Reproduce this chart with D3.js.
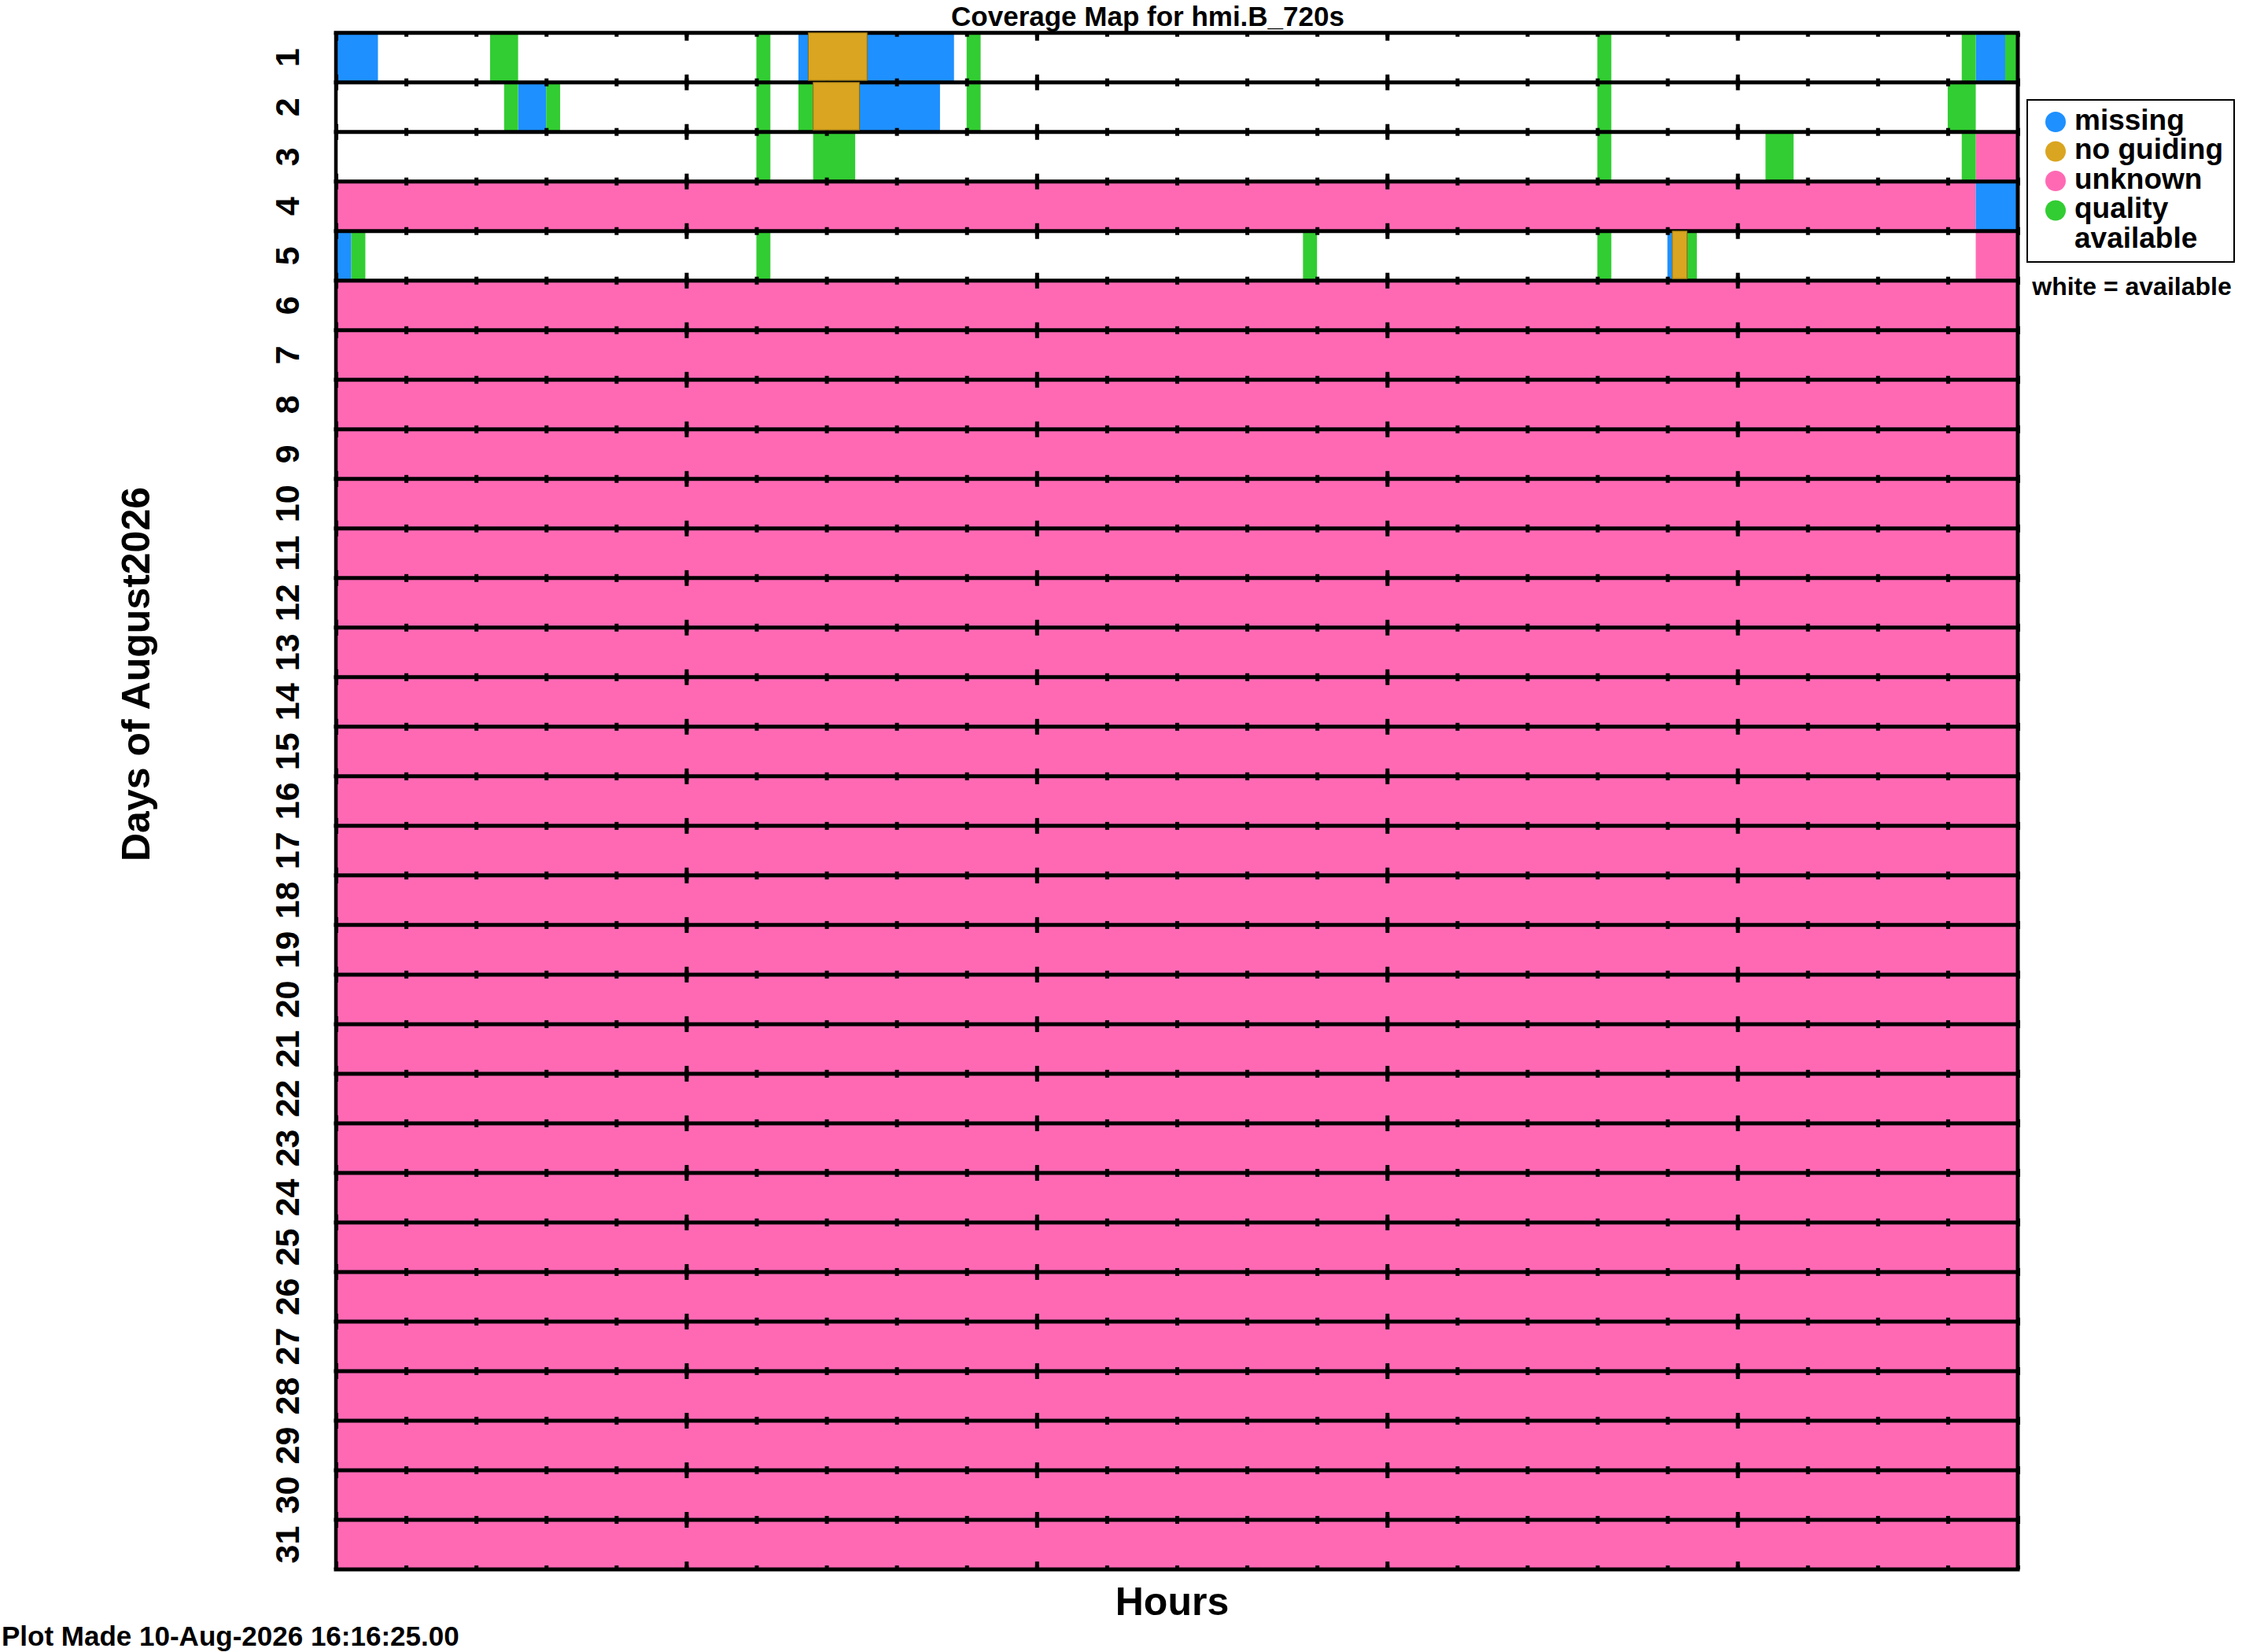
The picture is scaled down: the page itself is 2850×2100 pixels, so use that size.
<!DOCTYPE html>
<html>
<head>
<meta charset="utf-8">
<script src="https://cdn.jsdelivr.net/npm/d3@7/dist/d3.min.js"></script>
<style>
  html, body { margin: 0; padding: 0; background: #fff; }
  svg { display: block; }
  text { font-family: "Liberation Sans", Arial, Helvetica, sans-serif; font-weight: bold; fill: #000; }
</style>
</head>
<body>
<svg id="chart" width="2850" height="2100"></svg>
<script>
// ---------------- DATA ----------------
const days = [1,2,3,4,5,6,7,8,9,10,11,12,13,14,15,16,17,18,19,20,21,22,23,24,25,26,27,28,29,30,31];
const majorHourTicks = [0, 5, 10, 15, 20];
const minorHourTicks = [0,1,2,3,4,5,6,7,8,9,10,11,12,13,14,15,16,17,18,19,20,21,22,23,24];
const dayLabels = ["1","2","3","4","5","6","7","8","9","10","11","12","13","14","15","16","17","18","19","20","21","22","23","24","25","26","27","28","29","30","31"];

// segments: [day, startHour, endHour]
const missing = [
  [1, 0.0, 0.6], [1, 6.6, 8.82], [1, 23.4, 23.82],
  [2, 2.6, 3.0], [2, 7.47, 8.62],
  [4, 23.4, 24.0],
  [5, 0.0, 0.22], [5, 19.0, 19.07]
];
const noGuiding = [
  [1, 6.74, 7.58],
  [2, 6.81, 7.47],
  [5, 19.07, 19.28]
];
const quality = [
  [1, 2.2, 2.6], [1, 6.0, 6.2], [1, 9.0, 9.2], [1, 18.0, 18.2], [1, 23.2, 23.4], [1, 23.82, 24.0],
  [2, 2.4, 2.6], [2, 3.0, 3.2], [2, 6.0, 6.2], [2, 6.6, 6.81], [2, 9.0, 9.2], [2, 18.0, 18.2], [2, 23.0, 23.4],
  [3, 6.0, 6.2], [3, 6.81, 7.41], [3, 18.0, 18.2], [3, 20.4, 20.8], [3, 23.2, 23.4],
  [5, 0.22, 0.42], [5, 6.0, 6.2], [5, 13.8, 14.0], [5, 18.0, 18.2], [5, 19.28, 19.42]
];
const unknown = [
  [3, 23.4, 24], [4, 0, 23.4], [5, 23.4, 24],
  [6, 0, 24], [7, 0, 24], [8, 0, 24], [9, 0, 24], [10, 0, 24], [11, 0, 24], [12, 0, 24],
  [13, 0, 24], [14, 0, 24], [15, 0, 24], [16, 0, 24], [17, 0, 24], [18, 0, 24], [19, 0, 24],
  [20, 0, 24], [21, 0, 24], [22, 0, 24], [23, 0, 24], [24, 0, 24], [25, 0, 24], [26, 0, 24],
  [27, 0, 24], [28, 0, 24], [29, 0, 24], [30, 0, 24], [31, 0, 24]
];
const legendItems = ["missing", "no guiding", "unknown", "quality"];
const legendColors = ["#1E90FF", "#DAA520", "#FF69B4", "#32CD32"];

const titleText = "Coverage Map for hmi.B_720s";
const xTitle = "Hours";
const yTitle = "Days of August2026";
const footer = "Plot Made 10-Aug-2026 16:16:25.00";

// ---------------- LAYOUT ----------------
const svg = d3.select("#chart");
const plotL = 427, plotR = 2565, plotT = 41.7, plotB = 1995;

const x = d3.scaleLinear().domain([0, 24]).range([plotL, plotR]);
const y = d3.scaleBand().domain(days).range([plotT, plotB]).paddingInner(0).paddingOuter(0);
const colorFor = {missing: "#1E90FF", noGuiding: "#DAA520", unknown: "#FF69B4", quality: "#32CD32"};

// row backgrounds
svg.append("g").selectAll("rect").data(days).join("rect")
  .attr("x", plotL).attr("width", plotR - plotL)
  .attr("y", d => y(d)).attr("height", y.bandwidth())
  .attr("fill", "#fff");

function drawSegs(data, color, cls) {
  svg.append("g").attr("class", cls).selectAll("rect").data(data).join("rect")
    .attr("x", d => x(d[1]))
    .attr("width", d => x(d[2]) - x(d[1]))
    .attr("y", d => y(d[0]))
    .attr("height", y.bandwidth())
    .attr("fill", color);
}
drawSegs(unknown, colorFor.unknown, "unknown");
drawSegs(missing, colorFor.missing, "missing");
drawSegs(quality, colorFor.quality, "quality");

// row lines
const boundaries = days.map(d => y(d)).concat([plotB]);
svg.append("g").selectAll("line").data(boundaries).join("line")
  .attr("x1", plotL - 2.5).attr("x2", plotR + 2.5)
  .attr("y1", d => d).attr("y2", d => d)
  .attr("stroke", "#000").attr("stroke-width", 5);
svg.append("line").attr("x1", plotL).attr("x2", plotL).attr("y1", plotT).attr("y2", plotB)
  .attr("stroke", "#000").attr("stroke-width", 4.5);
svg.append("line").attr("x1", plotR).attr("x2", plotR).attr("y1", plotT).attr("y2", plotB)
  .attr("stroke", "#000").attr("stroke-width", 5);

// ticks per row (inward from top and bottom of every row)
days.forEach(d => {
  const top = y(d), bot = y(d) + y.bandwidth();
  const gMinT = svg.append("g").attr("transform", `translate(0,${top})`)
    .call(d3.axisBottom(x).tickValues(minorHourTicks).tickSize(5).tickSizeOuter(0).tickFormat(""));
  const gMajT = svg.append("g").attr("transform", `translate(0,${top})`)
    .call(d3.axisBottom(x).tickValues(majorHourTicks).tickSize(10).tickSizeOuter(0).tickFormat(""));
  const gMinB = svg.append("g").attr("transform", `translate(0,${bot})`)
    .call(d3.axisTop(x).tickValues(minorHourTicks).tickSize(5).tickSizeOuter(0).tickFormat(""));
  const gMajB = svg.append("g").attr("transform", `translate(0,${bot})`)
    .call(d3.axisTop(x).tickValues(majorHourTicks).tickSize(10).tickSizeOuter(0).tickFormat(""));
  [gMinT, gMajT, gMinB, gMajB].forEach(g => {
    g.select(".domain").remove();
    g.selectAll(".tick line").attr("stroke", "#000").attr("stroke-width", 5);
  });
});

// no guiding drawn last (overlaps row line slightly, with outline)
svg.append("g").selectAll("rect").data(noGuiding).join("rect")
  .attr("x", d => x(d[1]))
  .attr("width", d => x(d[2]) - x(d[1]))
  .attr("y", d => y(d[0]))
  .attr("height", y.bandwidth() - 2.5)
  .attr("fill", colorFor.noGuiding)
  .attr("stroke", "#8a6a10").attr("stroke-width", 1);

// day labels (rotated)
svg.append("g").selectAll("text").data(days).join("text")
  .attr("transform", (d, i) => `translate(380,${y(d) + y.bandwidth() / 2}) rotate(-90)`)
  .attr("text-anchor", "middle")
  .attr("font-size", 43)
  .text((d, i) => dayLabels[i]);

// titles
svg.append("text").attr("x", 1459).attr("y", 33).attr("text-anchor", "middle")
  .attr("font-size", 35).text(titleText);
svg.append("text").attr("x", 1490).attr("y", 2053).attr("text-anchor", "middle")
  .attr("font-size", 50).text(xTitle);
svg.append("text").attr("transform", "translate(190,857) rotate(-90)").attr("text-anchor", "middle")
  .attr("font-size", 50).text(yTitle);
svg.append("text").attr("x", 2).attr("y", 2092).attr("font-size", 35).text(footer);

// legend
const lg = svg.append("g");
lg.append("rect").attr("x", 2577).attr("y", 127).attr("width", 263).attr("height", 206)
  .attr("fill", "#fff").attr("stroke", "#000").attr("stroke-width", 2);
const ly = d3.scalePoint().domain(legendItems).range([155, 267.5]);
lg.selectAll("circle").data(legendItems).join("circle")
  .attr("cx", 2613).attr("cy", d => ly(d)).attr("r", 13)
  .attr("fill", (d, i) => legendColors[i]);
lg.selectAll("text.item").data(legendItems).join("text").attr("class", "item")
  .attr("x", 2637).attr("y", d => ly(d) + 9.5)
  .attr("font-size", 37).text(d => d);
lg.append("text").attr("x", 2637).attr("y", ly("quality") + 9.5 + 37.5)
  .attr("font-size", 37).text("available");
svg.append("text").attr("x", 2710).attr("y", 375).attr("text-anchor", "middle")
  .attr("font-size", 32).text("white = available");
</script>
</body>
</html>
